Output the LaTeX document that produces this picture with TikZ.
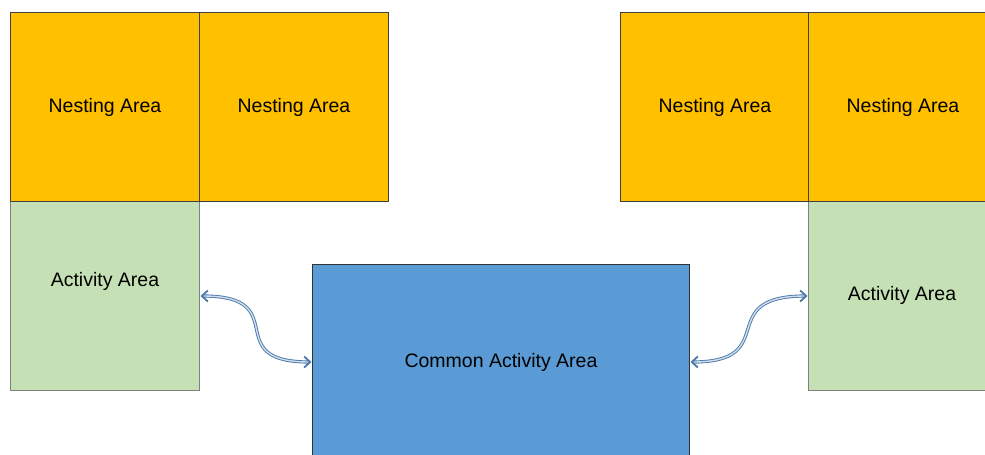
\documentclass[tikz,border=0pt]{standalone}
\usepackage{fontspec}
\setmainfont{Liberation Sans}
\usetikzlibrary{arrows.meta}
\definecolor{nestcol}{HTML}{FFC000}
\definecolor{actcol}{HTML}{C5E0B4}
\definecolor{commcol}{HTML}{5B9BD5}
\definecolor{arrcol}{HTML}{4A79AC}
\begin{document}
\begin{tikzpicture}[x=1pt,y=-1pt,
  every node/.style={font=\fontsize{19.5}{23}\selectfont, text=black},
  nestbox/.style={draw=black!75, line width=1pt, fill=nestcol, minimum width=189pt, minimum height=189pt, inner sep=0pt, anchor=north west},
  actbox/.style={draw=black!50, line width=1pt, fill=actcol, minimum width=189pt, minimum height=189pt, inner sep=0pt, anchor=north west},
  commbox/.style={draw=black!80, line width=1pt, fill=commcol, minimum width=377pt, minimum height=194pt, inner sep=0pt, anchor=north west},
  link/.style={draw=arrcol, line width=0.9pt, double=white!75!arrcol, double distance=1.4pt, {Straight Barb[length=6pt,width=11pt,line width=1.8pt]}-{Straight Barb[length=6pt,width=11pt,line width=1.8pt]}, shorten <=0.5pt, shorten >=0.5pt}
]
\useasboundingbox (0,0) rectangle (985,455);
\fill[white] (0,0) rectangle (985,455);
% left group
\node[actbox] (actL) at (10,201) {};
\node[nestbox] (nestL1) at (10,12) {Nesting Area};
\node[nestbox] (nestL2) at (199,12) {Nesting Area};
\node (actLtext) at (105,281) {Activity Area};
% right group
\node[actbox] (actR) at (808,201) {};
\node[nestbox] (nestR1) at (620,12) {Nesting Area};
\node[nestbox] (nestR2) at (808,12) {Nesting Area};
\node (actRtext) at (902,295) {Activity Area};
% common
\node[commbox] (comm) at (312,264) {};
\node (commtext) at (501,362) {Common Activity Area};
% connectors
\coordinate (aL) at (actL.east |- 0,296);
\coordinate (cL) at (comm.west |- 0,362);
\coordinate (cR) at (comm.east |- 0,362);
\coordinate (aR) at (actR.west |- 0,296);
\draw[link] (aL) .. controls (295,296) and (218,362) .. (cL);
\draw[link] (cR) .. controls (783,362) and (712,296) .. (aR);
\end{tikzpicture}
\end{document}
